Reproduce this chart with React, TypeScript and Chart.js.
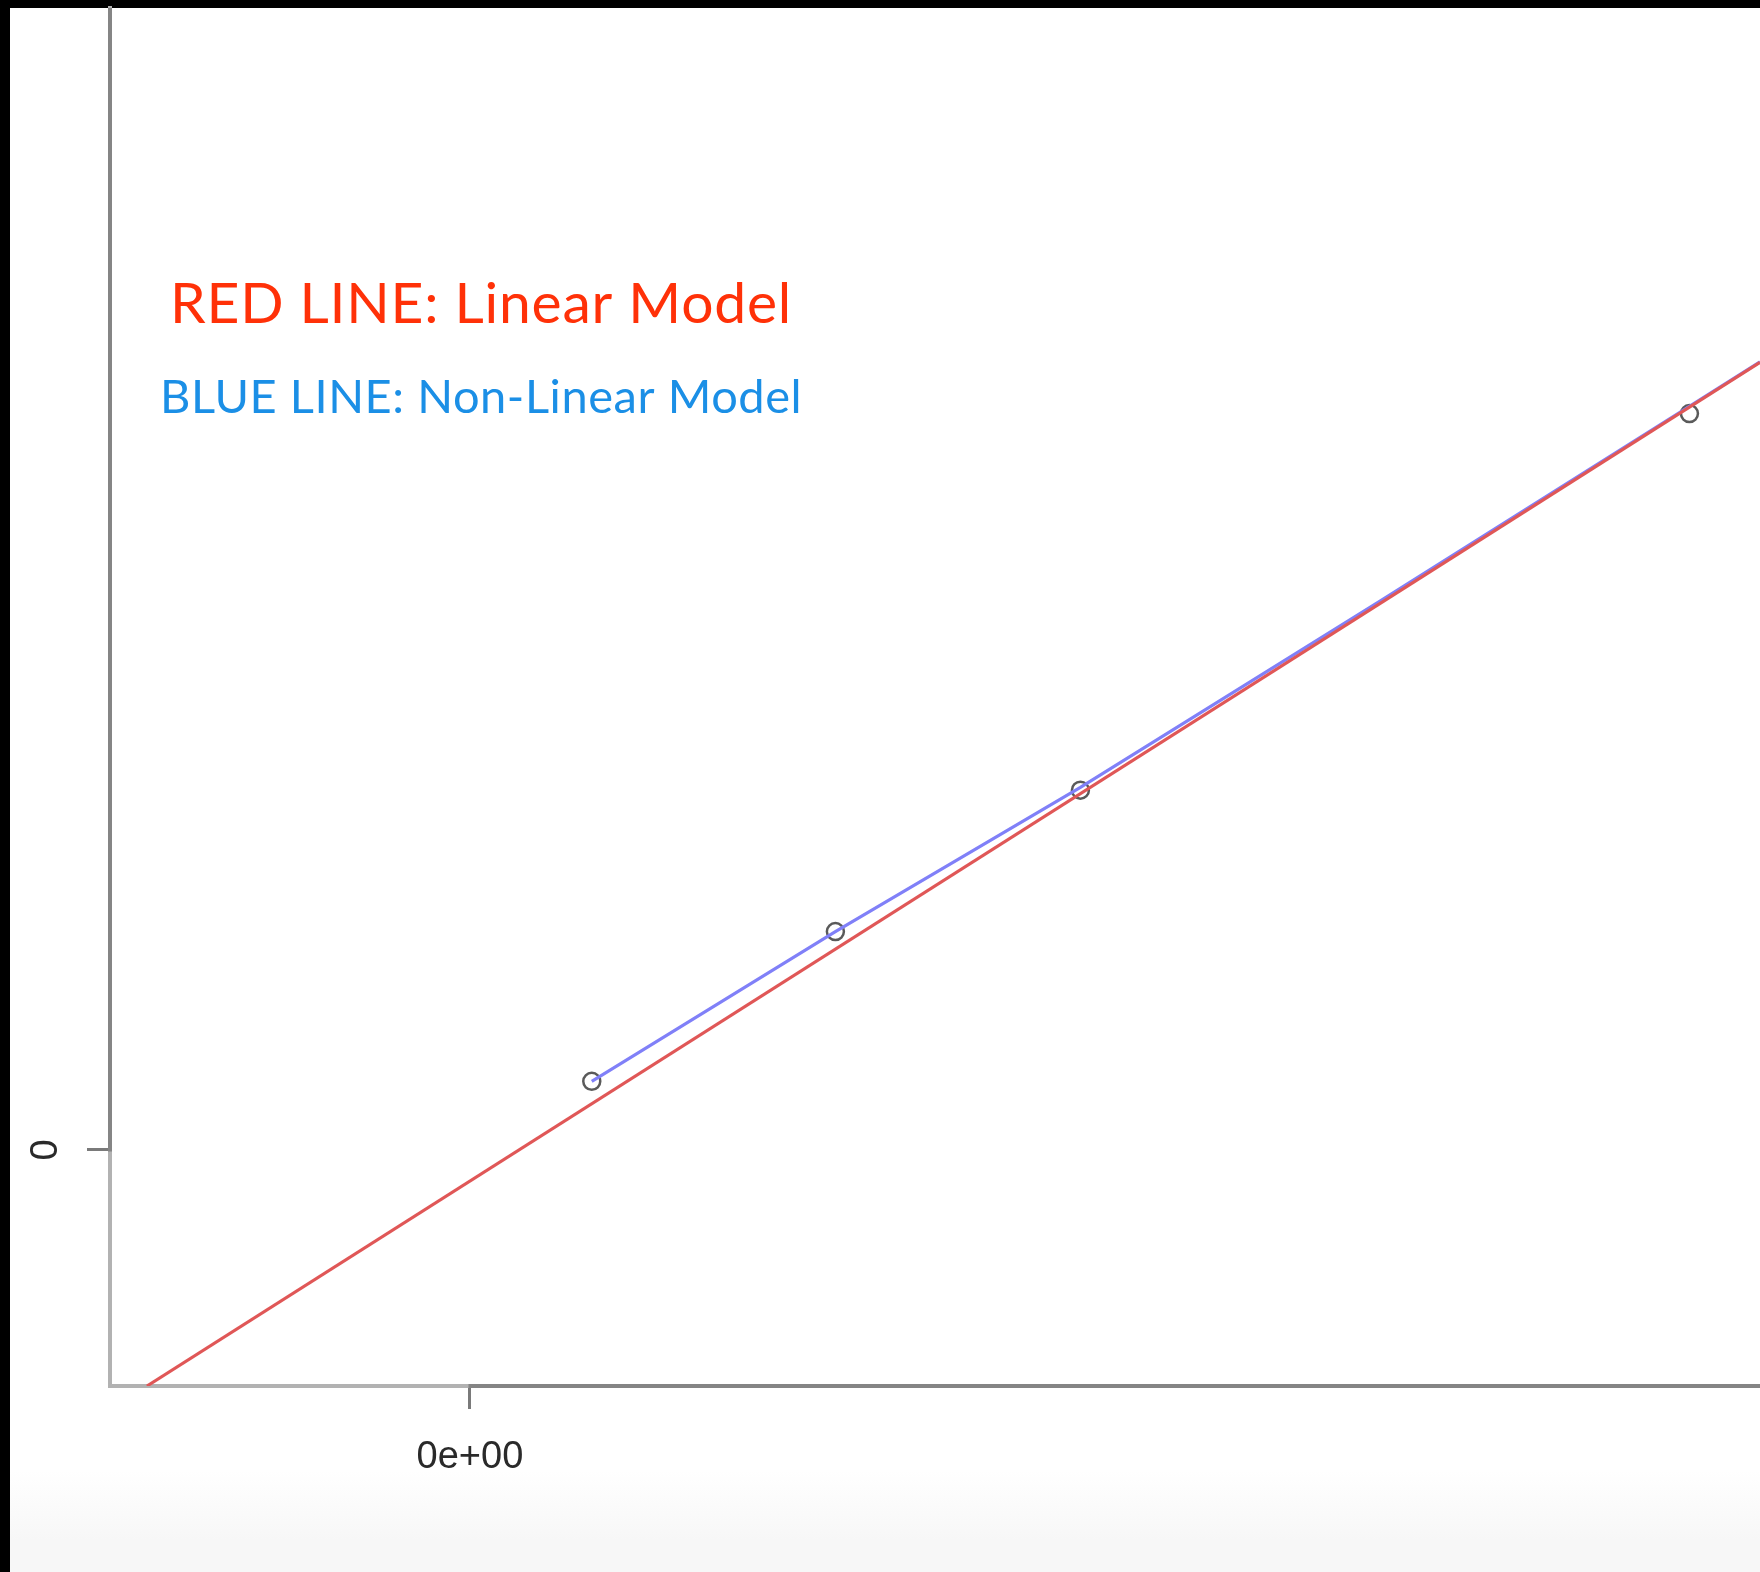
import React, { useEffect, useRef } from "react";
import { Chart, registerables } from "chart.js";

Chart.register(...registerables);

// Observed points (gray circles)
const obsX = [8700, 26100, 43600, 87100];
const obsY = [4900, 15600, 25700, 52600];

// Non-linear model fit (blue), from the first observation on past the right edge
const nonLinX = [8700, 26100, 43600, 65000, 87100, 92140];
const nonLinY = [4900, 15600, 25900, 39200, 53120, 56300];

// Linear model fit (red), from the bottom of the plot to the right edge
const linX = [-23070, 92140];
const linY = [-16860, 56250];

// Axis ranges and tick positions
const X_RANGE = [-25710, 92140];
const Y_RANGE = [-16860, 81570];
const X_TICKS = [0];
const Y_TICKS = [0];

const LEGEND_LINES = [
  { text: "RED LINE: Linear Model", color: "#ff3108", size: 57, spacing: 0.75, x: 170, y: 323 },
  { text: "BLUE LINE: Non-Linear Model", color: "#1b8fe6", size: 47, spacing: 0.55, x: 160, y: 413 },
];

const sci = (v: number) =>
  v.toExponential(0).replace(/e([+-])(\d)$/, "e$10$2");

const W = 1760;
const H = 1572;

// Keep Chart.js from reserving extra room for tick labels around the plot box
const noScalePadding = (s: any) => {
  s.paddingTop = 0;
  s.paddingBottom = 0;
  s.paddingLeft = 0;
  s.paddingRight = 0;
};

export default function App() {
  const ref = useRef<HTMLCanvasElement | null>(null);

  useEffect(() => {
    const canvas = ref.current;
    if (!canvas) return;

    const background = {
      id: "background",
      beforeDraw(chart: any) {
        const ctx = chart.ctx;
        ctx.save();
        ctx.fillStyle = "#000";
        ctx.fillRect(0, 0, W, H);
        const g = ctx.createLinearGradient(0, 1470, 0, 1540);
        g.addColorStop(0, "#ffffff");
        g.addColorStop(1, "#f7f7f7");
        ctx.fillStyle = g;
        ctx.fillRect(10, 8, W - 10, H - 8);
        ctx.restore();
      },
    };

    // Darker axis segments running from the first tick onward, drawn over the box lines
    const axisLines = {
      id: "axisLines",
      afterDatasetsDraw(chart: any) {
        const ctx = chart.ctx;
        const { left, right, top, bottom } = chart.chartArea;
        const xs = chart.scales.x;
        const ys = chart.scales.y;
        ctx.save();
        ctx.strokeStyle = "#858585";
        ctx.lineWidth = 4;
        ctx.beginPath();
        ctx.moveTo(xs.getPixelForValue(X_TICKS[0]) - 1.5, bottom);
        ctx.lineTo(right, bottom);
        ctx.moveTo(left, ys.getPixelForValue(Y_TICKS[0]) + 1.5);
        ctx.lineTo(left, top);
        ctx.stroke();
        ctx.restore();
      },
    };

    const legendText = {
      id: "legendText",
      afterDraw(chart: any) {
        const ctx = chart.ctx;
        ctx.save();
        ctx.textBaseline = "alphabetic";
        ctx.textAlign = "left";
        for (const l of LEGEND_LINES) {
          ctx.font = `400 ${l.size}px Lato`;
          (ctx as any).letterSpacing = `${l.spacing}px`;
          ctx.fillStyle = l.color;
          ctx.fillText(l.text, l.x, l.y);
        }
        ctx.restore();
      },
    };

    const chart = new Chart(canvas, {
      type: "scatter",
      data: {
        datasets: [
          {
            label: "Linear Model",
            data: linX.map((x, i) => ({ x, y: linY[i] })),
            showLine: true,
            borderColor: "#e05757",
            borderWidth: 3.2,
            pointRadius: 0,
          },
          {
            label: "Non-Linear Model",
            data: nonLinX.map((x, i) => ({ x, y: nonLinY[i] })),
            showLine: true,
            borderColor: "#8080f8",
            borderWidth: 3.2,
            pointRadius: 0,
          },
          {
            label: "Observed",
            data: obsX.map((x, i) => ({ x, y: obsY[i] })),
            showLine: false,
            pointStyle: "circle",
            pointRadius: 8.5,
            borderColor: "#5a5a5a",
            borderWidth: 2.5,
            backgroundColor: "rgba(0,0,0,0)",
          },
        ],
      },
      options: {
        animation: false,
        responsive: false,
        maintainAspectRatio: false,
        devicePixelRatio: 1,
        layout: { autoPadding: false, padding: { left: 10, top: 8, right: 0, bottom: 0 } },
        plugins: {
          legend: { display: false },
          tooltip: { enabled: false },
        },
        scales: {
          x: {
            type: "linear",
            min: X_RANGE[0],
            max: X_RANGE[1],
            afterBuildTicks: (s: any) => {
              s.ticks = X_TICKS.map((v) => ({ value: v }));
            },
            afterFit: (s: any) => {
              s.height = 186;
              noScalePadding(s);
            },
            grid: {
              drawOnChartArea: false,
              drawTicks: true,
              tickLength: 23,
              color: "#7a7a7a",
              lineWidth: 3,
            },
            border: { display: true, color: "#b2b2b2", width: 4 },
            ticks: {
              callback: (v: any) => sci(Number(v)),
              color: "#2a2a2a",
              font: { family: "Liberation Sans", size: 38 },
              padding: 26,
              maxRotation: 0,
              minRotation: 0,
            },
          },
          y: {
            type: "linear",
            min: Y_RANGE[0],
            max: Y_RANGE[1],
            afterBuildTicks: (s: any) => {
              s.ticks = Y_TICKS.map((v) => ({ value: v }));
            },
            afterFit: (s: any) => {
              s.width = 100;
              noScalePadding(s);
            },
            grid: {
              drawOnChartArea: false,
              drawTicks: true,
              tickLength: 23,
              color: "#7a7a7a",
              lineWidth: 3,
            },
            border: { display: true, color: "#b2b2b2", width: 4 },
            ticks: {
              callback: (v: any) => String(v),
              color: "#2a2a2a",
              font: { family: "Liberation Sans", size: 38 },
              padding: 30,
              crossAlign: "center",
              minRotation: 90,
              maxRotation: 90,
            },
          },
        },
      },
      plugins: [background, axisLines, legendText],
    } as any);

    return () => chart.destroy();
  }, []);

  return (
    <div style={{ position: "fixed", left: 0, top: 0, width: W, height: H }}>
      <canvas ref={ref} width={W} height={H} style={{ width: W, height: H, display: "block" }} />
    </div>
  );
}
